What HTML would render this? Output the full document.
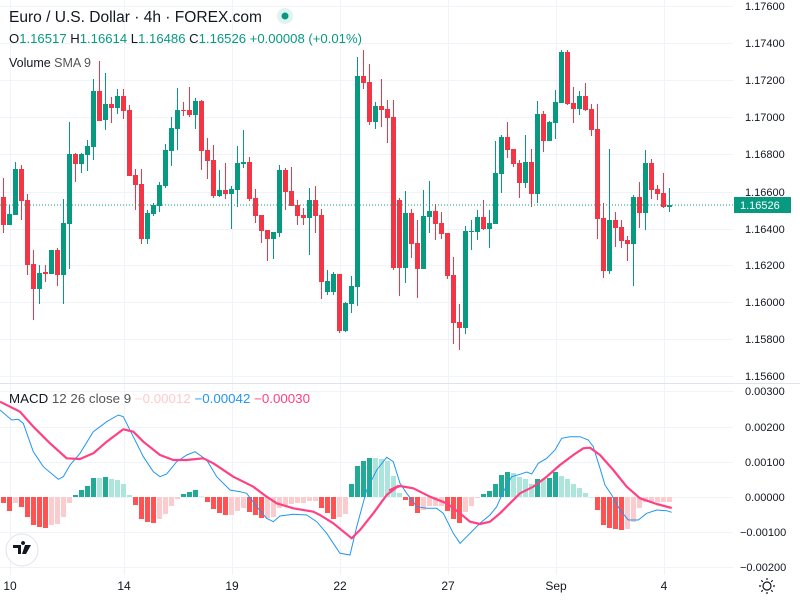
<!DOCTYPE html>
<html><head><meta charset="utf-8"><style>
body{margin:0;background:#fff;width:800px;height:600px;overflow:hidden;font-family:"Liberation Sans",sans-serif}
svg{position:absolute;left:0;top:0}
</style></head><body>
<svg id="s" width="800" height="600" xmlns="http://www.w3.org/2000/svg" font-family="Liberation Sans, sans-serif">
<g id="grid" stroke="#f0f3fa" stroke-width="1"></g>
<line x1="0" y1="383.5" x2="800" y2="383.5" stroke="#e0e3eb"/>
<g id="hist"></g>
<g id="cand"></g>
<line x1="0" y1="205" x2="733" y2="205" stroke="#089981" stroke-dasharray="1,2"/>
<polyline id="blue" fill="none" stroke="#2196F3" stroke-width="1"/>
<polyline id="sig" fill="none" stroke="#FF4081" stroke-width="2.2" stroke-linejoin="round"/>
<g font-size="11" fill="#131722" id="ax">
<text x="745" y="10">1.17600</text><text x="745" y="47">1.17400</text><text x="745" y="84">1.17200</text>
<text x="745" y="121">1.17000</text><text x="745" y="158">1.16800</text><text x="745" y="196">1.16600</text>
<text x="745" y="233">1.16400</text><text x="745" y="269">1.16200</text><text x="745" y="306">1.16000</text>
<text x="745" y="343">1.15800</text><text x="745" y="380">1.15600</text>
<text x="745" y="395">0.00300</text><text x="745" y="431">0.00200</text><text x="745" y="466">0.00100</text>
<text x="745" y="501">0.00000</text><text x="740" y="536">−0.00100</text><text x="740" y="571">−0.00200</text>
</g>
<rect x="734" y="197" width="57" height="16" fill="#089981"/>
<text x="740" y="209" font-size="11" fill="#fff">1.16526</text>
<g font-size="12" fill="#131722" text-anchor="middle">
<text x="10" y="590">10</text><text x="124" y="590">14</text><text x="232" y="590">19</text><text x="340" y="590">22</text>
<text x="448" y="590">27</text><text x="556" y="590">Sep</text><text x="664" y="590">4</text>
</g>
<g transform="translate(767,586)" stroke="#131722" fill="none" stroke-width="1.2">
<circle r="4"/><path d="M0-8V-6M0 6V8M-8 0H-6M6 0H8M-5.7-5.7L-4.2-4.2M4.2 4.2L5.7 5.7M-5.7 5.7L-4.2 4.2M4.2-4.2L5.7-5.7"/>
</g>
<text x="9" y="22" font-size="15.5" fill="#131722" textLength="253" lengthAdjust="spacingAndGlyphs">Euro / U.S. Dollar · 4h · FOREX.com</text>
<circle cx="285" cy="16" r="8" fill="#089981" fill-opacity="0.12"/><circle cx="285" cy="16" r="3.5" fill="#089981"/>
<text x="9" y="43" font-size="12.5" fill="#131722" textLength="353" lengthAdjust="spacingAndGlyphs">O<tspan fill="#089981">1.16517</tspan> H<tspan fill="#089981">1.16614</tspan> L<tspan fill="#089981">1.16486</tspan> C<tspan fill="#089981">1.16526</tspan> <tspan fill="#089981">+0.00008 (+0.01%)</tspan></text>
<text x="9" y="67" font-size="12.5" fill="#131722">Volume <tspan fill="#555">SMA 9</tspan></text>
<text x="9" y="403" font-size="12.5" fill="#131722" textLength="301" lengthAdjust="spacingAndGlyphs">MACD <tspan fill="#555">12 26 close 9</tspan>   <tspan fill="#FCCBCD">−0.00012</tspan> <tspan fill="#2196F3">−0.00042</tspan> <tspan fill="#FF4081">−0.00030</tspan></text>
<circle cx="22" cy="550" r="16" fill="#fff" stroke="#e0e3eb"/>
<path d="M13 545h8v9h-3v-6h-5z M21 545m2 0 a2 2 0 1 1 0.1 0z M25 545h6l-5 9h-4z" fill="#131722"/>
</svg>
<script>
var NS="http://www.w3.org/2000/svg";
function el(p,t,a){var e=document.createElementNS(NS,t);for(var k in a)e.setAttribute(k,a[k]);document.getElementById(p).appendChild(e);}
[6,43,80,117,154,192,229,265,302,339,376,391,427,462,497,532,567].forEach(function(y){el("grid","line",{x1:0,x2:733,y1:y+.5,y2:y+.5});});
[10,124,232,340,448,556,664].forEach(function(x){el("grid","line",{x1:x+.5,x2:x+.5,y1:0,y2:575});});
var C="r 197 225 178 233|g 214 225 205 225|g 169 215 162 215|r 169 201 165 220|r 200 265 194 275|r 264 289 250 320|g 273 289 265 304|r 272 274 265 282|g 250 274 250 274|r 250 275 248 286|g 223 275 199 304|g 154 224 122 269|r 154 164 153 182|g 154 164 153 173|g 146 155 140 171|g 91 147 79 160|r 91 121 61 121|g 104 120 73 130|r 104 108 97 123|g 96 108 89 114|r 96 111 89 119|r 110 176 105 176|r 175 185 169 210|r 184 239 169 244|g 213 239 210 244|g 205 214 203 216|g 185 206 182 212|g 150 186 144 188|g 128 151 117 166|g 110 129 88 150|r 110 111 102 116|r 110 115 87 117|g 101 115 98 129|r 101 151 100 170|r 150 161 138 179|r 160 196 145 198|g 190 196 170 197|r 190 194 163 199|g 189 194 186 229|g 163 190 146 207|g 162 164 130 168|r 162 199 157 201|r 198 216 189 223|r 215 231 215 243|r 230 239 230 261|g 232 239 232 259|g 170 233 165 237|r 170 192 168 210|r 191 206 167 206|r 205 216 200 225|r 215 218 208 225|g 200 218 188 255|r 200 216 186 233|r 215 282 209 299|g 281 292 270 295|g 274 292 272 295|r 274 331 274 333|g 303 331 302 332|g 286 304 276 313|g 76 287 57 306|r 76 83 50 89|r 82 122 64 125|g 106 122 102 129|r 106 110 79 127|r 109 118 100 143|r 117 268 100 270|r 200 268 198 296|g 213 268 191 283|r 213 244 209 258|r 243 269 220 298|g 216 269 190 269|g 211 217 181 233|r 211 224 204 240|r 223 234 212 239|r 233 276 233 279|r 275 323 257 344|r 322 328 304 350|g 231 328 226 334|g 231 232 220 250|g 217 232 210 240|r 217 229 200 230|g 223 229 210 248|g 173 224 141 224|g 137 174 135 193|r 137 150 122 158|r 149 164 149 167|r 163 183 160 198|g 162 183 135 188|r 162 194 149 207|g 114 194 101 203|r 114 141 111 152|g 122 141 121 141|g 102 123 90 139|g 52 103 50 103|r 52 104 50 105|r 103 109 87 123|g 96 109 91 115|r 96 110 83 111|r 109 130 104 136|r 129 219 104 239|r 218 271 203 278|g 220 271 149 274|r 220 228 212 247|r 227 241 220 248|r 240 244 236 261|g 197 244 195 286|r 197 213 182 228|g 163 213 150 230|r 163 190 159 199|r 189 194 185 200|r 193 207 173 208|g 205 207 188 212".split("|");
C.forEach(function(s,i){var a=s.split(" "),col=a[0]=="g"?"#089981":"#F23645",x=3+6*i,t=+a[1],b=+a[2];
el("cand","rect",{x:x,y:+a[3],width:1,height:(+a[4])-(+a[3]),fill:col});
el("cand","rect",{x:x-2,y:t,width:5,height:Math.max(1,b-t),fill:col});});
var H=[-6,-14,-6,-10,-20,-28,-30,-31,-28,-27,-20,-6,2,7,11,19,19,20,18,17,13,2,-8,-22,-25,-26,-22,-17,-9,-2,3,5,7,0.5,-5,-12,-16,-18,-18,-14,-11,-15,-18,-21,-21,-20,-11,-9,-7,-6,-6,-4,-4,-11,-16,-22,-20,-17,13,31,36,39,39,38,36,21,4,-3,-9,-16,-13,-9,-9,-9,-14,-22,-26,-15,-9,-1,3,6,13,22,25,24,20,18,13,18,18,19,25,21,18,13,9,4,0,-13,-28,-31,-32,-33,-32,-25,-11,-5,-5,-5,-5,-5];
H.forEach(function(v,i){var p=i?H[i-1]:0,col;if(v>=0)col=v>p?"#22AB94":"#ACE5DC";else col=v<p?"#FF5252":"#FCCBCD";
var x=1+6*i;if(v>=0)el("hist","rect",{x:x,y:497-v,width:5,height:Math.max(v,0.5),fill:col});else el("hist","rect",{x:x,y:497,width:5,height:-v,fill:col});});
function pts(a,off){return a.map(function(p){return (off+p[0]/3).toFixed(1)+","+(380+p[1]/3).toFixed(1);});}
var b1=[[0,90],[35,120],[55,118],[70,130],[100,215],[130,260],[175,298],[190,290],[210,255],[240,220],[280,155],[320,125],[355,105],[370,110],[400,170],[430,230],[460,275],[480,290],[500,282],[530,245],[560,225],[585,215],[620,240],[650,290],[690,330],[720,335],[740,340],[770,380],[800,415],[820,425],[840,408],[880,403],[920,405],[950,425],[980,460],[1000,490],[1020,520],[1050,525],[1070,440],[1100,330],[1130,270],[1160,232],[1180,245]];
var b2=[[60,310],[80,340],[110,380],[140,385],[170,385],[190,400],[220,460],[240,490],[260,470],[300,430],[330,405],[350,380],[370,335],[395,290],[420,283],[440,276],[455,282],[475,250],[500,235],[525,210],[545,175],[570,170],[600,170],[625,180],[640,200],[660,265],[675,315],[695,345],[720,390],[745,420],[775,420],[800,400],[830,390],[860,392],[875,397]];
var s1=[[0,65],[60,95],[100,140],[150,190],[200,235],[240,237],[280,220],[320,185],[370,148],[400,155],[430,185],[480,225],[520,240],[560,240],[610,235],[640,250],[700,290],[760,320],[800,350],[830,370],[880,385],[940,395],[960,405],[1000,430],[1055,475],[1080,450],[1120,400],[1160,345],[1195,318]];
var s2=[[30,330],[60,318],[100,325],[150,350],[200,370],[240,400],[270,425],[300,432],[330,425],[360,400],[390,370],[420,340],[460,320],[500,290],[540,255],[580,225],[610,205],[630,203],[660,225],[700,270],[740,320],[780,355],[830,372],[875,384]];
document.getElementById("blue").setAttribute("points",pts(b1,0).concat(pts(b2,380)).join(" "));
document.getElementById("sig").setAttribute("points",pts(s1,0).concat(pts(s2,380)).join(" "));
</script>
</body></html>
